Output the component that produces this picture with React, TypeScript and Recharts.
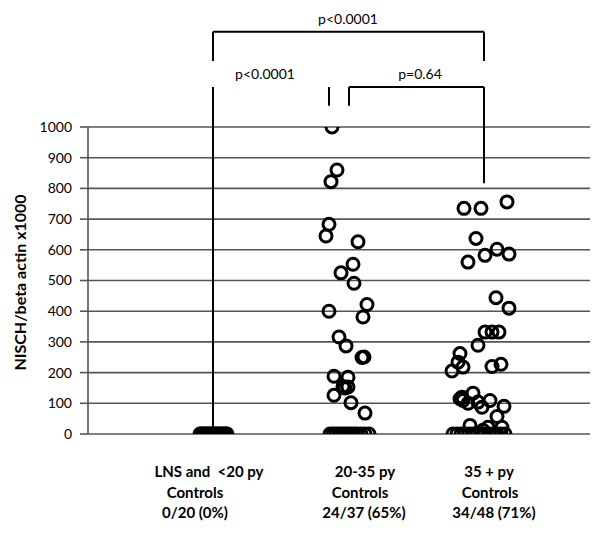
import React from 'react';
import {
  ScatterChart,
  Scatter,
  XAxis,
  YAxis,
  CartesianGrid,
  ReferenceLine,
  ReferenceDot,
  Label,
} from 'recharts';

// ---------- data ----------
const CATEGORY_LINES: string[][] = [
  ['LNS and  <20 py', 'Controls', '0/20 (0%)'],
  ['20-35 py', 'Controls', '24/37 (65%)'],
  ['35 + py', 'Controls', '34/48 (71%)'],
];
const CATEGORY_TICKS = [1.07, 2.74, 4.03];
const Y_TICKS = [0, 100, 200, 300, 400, 500, 600, 700, 800, 900, 1000];
const Y_TITLE = 'NISCH/beta actin x1000';

// group 1: LNS and <20 py (all zero)
const G1_X = [1.12, 1.13, 1.15, 1.16, 1.18, 1.19, 1.21, 1.22, 1.24, 1.25, 1.26, 1.28, 1.29, 1.31, 1.32, 1.34, 1.35, 1.37, 1.38, 1.39];
const G1_Y = [0, 0, 0, 0, 0, 0, 0, 0, 0, 0, 0, 0, 0, 0, 0, 0, 0, 0, 0, 0];

// group 2: 20-35 py
const G2_X = [
  2.44, 2.49, 2.43, 2.41, 2.38, 2.70, 2.65, 2.53, 2.66, 2.79, 2.41, 2.75, 2.51, 2.58, 2.74, 2.76,
  2.46, 2.60, 2.55, 2.60, 2.57, 2.46, 2.63, 2.77,
  2.42, 2.45, 2.48, 2.51, 2.54, 2.57, 2.60, 2.63, 2.66, 2.69, 2.73, 2.77, 2.81,
];
const G2_Y = [
  1000, 860, 822, 683, 645, 626, 553, 525, 491, 422, 400, 381, 316, 287, 249, 251,
  188, 185, 155, 153, 150, 126, 102, 68,
  0, 0, 0, 0, 0, 0, 0, 0, 0, 0, 0, 0, 0,
];

// group 3: 35 + py
const G3_X = [
  3.76, 3.93, 4.19, 3.88, 3.97, 3.80, 4.09, 4.21, 4.08, 4.21, 3.97, 4.04, 4.11, 3.90, 3.72, 3.70,
  3.75, 3.64, 4.04, 4.13, 3.72, 3.75, 3.85, 3.90, 3.94, 4.02, 4.16, 4.09, 3.82, 4.00, 4.14, 3.74,
  3.95, 3.80,
  3.65, 3.69, 3.73, 3.77, 3.81, 3.85, 3.89, 3.93, 3.97, 4.01, 4.05, 4.09, 4.13, 4.17,
];
const G3_Y = [
  735, 735, 756, 637, 582, 560, 602, 586, 444, 410, 332, 332, 332, 289, 262, 234,
  218, 205, 220, 227, 115, 109, 133, 104, 87, 109, 90, 57, 28, 22, 22, 120,
  12, 100,
  0, 0, 0, 0, 0, 0, 0, 0, 0, 0, 0, 0, 0, 0,
];

// significance brackets (x in group units, y in axis units)
const BRACKET_SEGMENTS: [number, number, number, number][] = [
  [1.25, 0, 1.25, 1130],
  [1.25, 1215, 1.25, 1310],
  [1.25, 1310, 3.96, 1310],
  [3.96, 1310, 3.96, 1215],
  [2.41, 1069, 2.41, 1130],
  [2.61, 1069, 2.61, 1130],
  [2.61, 1130, 3.96, 1130],
  [3.96, 1130, 3.96, 817],
];
const P_LABELS: { x: number; y: number; text: string }[] = [
  { x: 2.60, y: 1352, text: 'p<0.0001' },
  { x: 1.77, y: 1172, text: 'p<0.0001' },
  { x: 3.32, y: 1172, text: 'p=0.64' },
];

const toPoints = (xs: number[], ys: number[]) => xs.map((x, i) => ({ x, y: ys[i] }));

// ---------- styling ----------
const FONT = 'Lato, "Open Sans", "DejaVu Sans", sans-serif';
const LINE_SHIFT = [
  [14, 0, 0],
  [3, -2, 2],
  [-2, -1, 3],
];

const Ring = (props: any) => {
  const { cx, cy } = props;
  if (cx == null || cy == null) return null;
  return <circle cx={cx} cy={cy} r={6} fill="none" stroke="#000" strokeWidth={3} />;
};

const CategoryTick = (props: any) => {
  const { x, y, payload } = props;
  const idx = CATEGORY_TICKS.indexOf(payload.value);
  const lines = CATEGORY_LINES[idx] || [];
  return (
    <g>
      {lines.map((t, i) => (
        <text
          key={i}
          x={x + (LINE_SHIFT[idx] ? LINE_SHIFT[idx][i] : 0)}
          y={y + 35 + i * 20.5}
          textAnchor="middle"
          fontFamily={FONT}
          fontWeight={700}
          fontSize={15}
          fill="#000"
          style={{ whiteSpace: 'pre' }}
        >
          {t}
        </text>
      ))}
    </g>
  );
};

const YTitle = (props: any) => {
  const vb = props.viewBox || { x: 0, y: 127, width: 88, height: 307 };
  const cx = vb.x + 19;
  const cy = vb.y + vb.height / 2 + 2;
  return (
    <text
      x={cx}
      y={cy}
      transform={`rotate(-90, ${cx}, ${cy})`}
      textAnchor="middle"
      dominantBaseline="central"
      fontFamily={FONT}
      fontWeight={700}
      fontSize={16}
      fill="#000"
    >
      {Y_TITLE}
    </text>
  );
};

export default function App() {
  return (
    <div style={{ position: 'absolute', left: 0, top: 0, width: 606, height: 533, background: '#fff' }}>
      <ScatterChart
        width={606}
        height={533}
        margin={{ top: 127, right: 16, bottom: 0, left: 0 }}
      >
        <CartesianGrid horizontal vertical={false} stroke="#555" strokeWidth={1.6} />
        <XAxis
          type="number"
          dataKey="x"
          domain={[0, 5.02]}
          ticks={CATEGORY_TICKS}
          interval={0}
          axisLine={false}
          tickLine={false}
          height={99}
          tick={<CategoryTick />}
          allowDataOverflow
        />
        <YAxis
          type="number"
          dataKey="y"
          domain={[0, 1000]}
          ticks={Y_TICKS}
          interval={0}
          width={88}
          tickSize={8}
          tickMargin={8}
          axisLine={{ stroke: '#555', strokeWidth: 1.6 }}
          tickLine={{ stroke: '#555', strokeWidth: 1.6 }}
          tick={{ fill: '#000', fontFamily: FONT, fontSize: 14 }}
          allowDataOverflow
        >
          <Label content={<YTitle />} />
        </YAxis>
        {BRACKET_SEGMENTS.map((s, i) => (
          <ReferenceLine
            key={'b' + i}
            segment={[
              { x: s[0], y: s[1] },
              { x: s[2], y: s[3] },
            ]}
            stroke="#000"
            strokeWidth={2}
            ifOverflow="visible"
          />
        ))}
        {P_LABELS.map((p, i) => (
          <ReferenceDot
            key={'p' + i}
            x={p.x}
            y={p.y}
            r={0}
            fill="none"
            stroke="none"
            ifOverflow="visible"
            label={{ value: p.text, position: 'center', fill: '#000', fontFamily: FONT, fontSize: 14 }}
          />
        ))}
        <Scatter data={toPoints(G1_X, G1_Y)} shape={<Ring />} isAnimationActive={false} />
        <Scatter data={toPoints(G2_X, G2_Y)} shape={<Ring />} isAnimationActive={false} />
        <Scatter data={toPoints(G3_X, G3_Y)} shape={<Ring />} isAnimationActive={false} />
      </ScatterChart>
    </div>
  );
}
